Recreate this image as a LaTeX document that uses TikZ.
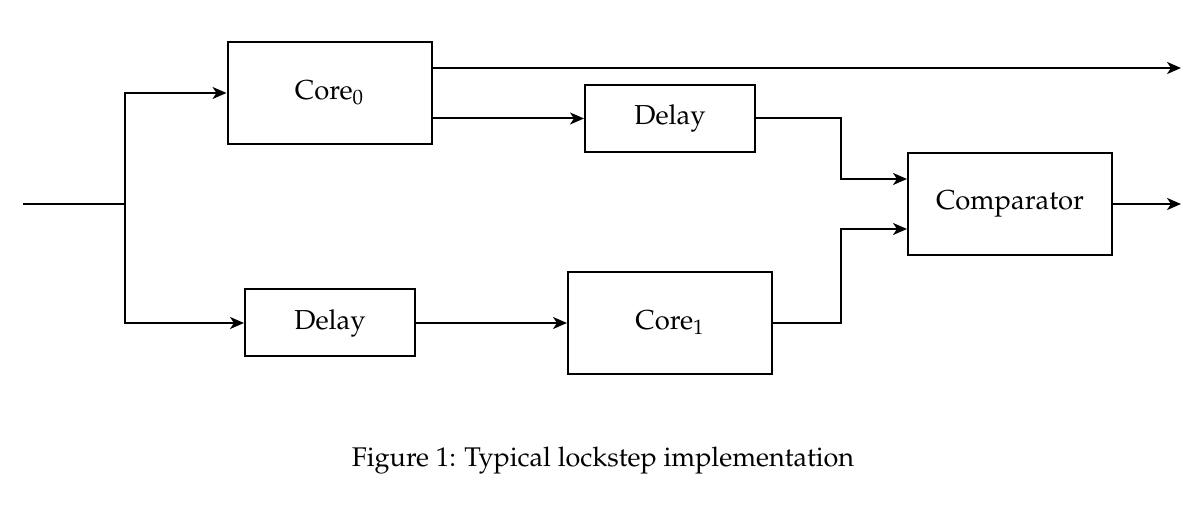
\documentclass[tikz,border=0pt]{standalone}
\usepackage[T1]{fontenc}
\usepackage{mathpazo}
\usetikzlibrary{arrows.meta, positioning}

\begin{document}
\begin{tikzpicture}[>={Stealth[length=7pt, width=6pt, inset=2pt]}, x=0.5pt, y=-0.5pt, line width=1pt]
    \tikzstyle{blk}=[rectangle, draw, minimum width=102pt, minimum height=51pt, inner sep=0pt, font=\fontsize{13.7}{16}\selectfont]
    \tikzstyle{dly}=[blk, minimum width=85pt, minimum height=33.5pt]

    \useasboundingbox (0,0) rectangle (1203,506);

    \node[blk] (core0) at (329.5,93) {Core$_0$};
    \node[dly] (delay0) at (670,118.5) {Delay};
    \node[blk] (cmp) at (1010,204) {Comparator};
    \node[dly] (delay1) at (330,323) {Delay};
    \node[blk] (core1) at (670,323) {Core$_1$};

    \coordinate (in) at (23,204);
    \coordinate (split) at (125,204);
    \coordinate (out0) at (1181,68);
    \coordinate (out1) at (1181,204);

    \draw (in) -- (split);
    \draw[->] (split) |- (core0);
    \draw[->] (split) |- (delay1);
    \draw[->] (core0.east |- out0) -- (out0);
    \draw[->] (core0.east |- delay0) -- (delay0);
    \draw[->] (delay0.east) -- ++(85,0) |- ([yshift=12.5pt]cmp.west);
    \draw[->] (delay1) -- (core1);
    \draw[->] (core1.east) -- ++(68,0) |- ([yshift=-12.5pt]cmp.west);
    \draw[->] (cmp) -- (out1);

    \node[font=\fontsize{13.5}{16}\selectfont] (cap) at (603,461) {Figure 1: Typical lockstep implementation};
\end{tikzpicture}
\end{document}
